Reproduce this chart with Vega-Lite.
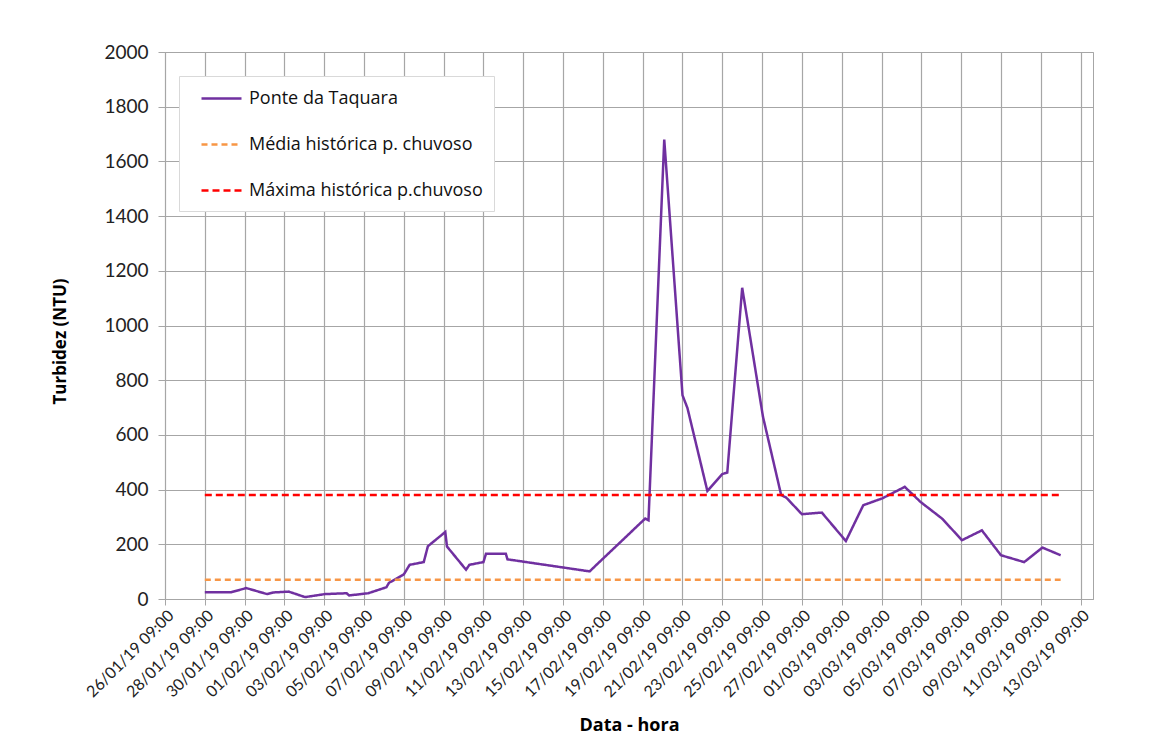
{
  "$schema": "https://vega.github.io/schema/vega-lite/v6.json",
  "autosize": "none",
  "width": 928,
  "height": 547,
  "padding": {"left": 165, "top": 52, "right": 74, "bottom": 136},
  "background": "white",
  "config": {
    "font": "Lato",
    "view": {"stroke": "#a6a6a6", "strokeWidth": 1}
  },
  "data": {
    "values": [
      {"t": "2019-01-28T09:00Z", "v": 25, "s": "Ponte da Taquara"},
      {"t": "2019-01-29T17:00Z", "v": 25, "s": "Ponte da Taquara"},
      {"t": "2019-01-30T11:00Z", "v": 40, "s": "Ponte da Taquara"},
      {"t": "2019-01-31T12:00Z", "v": 18, "s": "Ponte da Taquara"},
      {"t": "2019-01-31T20:00Z", "v": 24, "s": "Ponte da Taquara"},
      {"t": "2019-02-01T14:00Z", "v": 27, "s": "Ponte da Taquara"},
      {"t": "2019-02-02T10:00Z", "v": 7, "s": "Ponte da Taquara"},
      {"t": "2019-02-03T10:00Z", "v": 18, "s": "Ponte da Taquara"},
      {"t": "2019-02-04T12:00Z", "v": 21, "s": "Ponte da Taquara"},
      {"t": "2019-02-04T15:00Z", "v": 13, "s": "Ponte da Taquara"},
      {"t": "2019-02-05T14:00Z", "v": 21, "s": "Ponte da Taquara"},
      {"t": "2019-02-06T12:00Z", "v": 43, "s": "Ponte da Taquara"},
      {"t": "2019-02-06T15:00Z", "v": 59, "s": "Ponte da Taquara"},
      {"t": "2019-02-07T09:00Z", "v": 90, "s": "Ponte da Taquara"},
      {"t": "2019-02-07T16:00Z", "v": 125, "s": "Ponte da Taquara"},
      {"t": "2019-02-08T09:00Z", "v": 135, "s": "Ponte da Taquara"},
      {"t": "2019-02-08T14:00Z", "v": 193, "s": "Ponte da Taquara"},
      {"t": "2019-02-09T11:00Z", "v": 245, "s": "Ponte da Taquara"},
      {"t": "2019-02-09T13:00Z", "v": 192, "s": "Ponte da Taquara"},
      {"t": "2019-02-10T12:00Z", "v": 107, "s": "Ponte da Taquara"},
      {"t": "2019-02-10T16:00Z", "v": 125, "s": "Ponte da Taquara"},
      {"t": "2019-02-11T09:00Z", "v": 135, "s": "Ponte da Taquara"},
      {"t": "2019-02-11T12:00Z", "v": 165, "s": "Ponte da Taquara"},
      {"t": "2019-02-12T12:00Z", "v": 165, "s": "Ponte da Taquara"},
      {"t": "2019-02-12T14:00Z", "v": 145, "s": "Ponte da Taquara"},
      {"t": "2019-02-16T17:00Z", "v": 101, "s": "Ponte da Taquara"},
      {"t": "2019-02-19T12:00Z", "v": 294, "s": "Ponte da Taquara"},
      {"t": "2019-02-19T16:00Z", "v": 288, "s": "Ponte da Taquara"},
      {"t": "2019-02-20T11:00Z", "v": 1680, "s": "Ponte da Taquara"},
      {"t": "2019-02-21T09:00Z", "v": 745, "s": "Ponte da Taquara"},
      {"t": "2019-02-21T15:00Z", "v": 698, "s": "Ponte da Taquara"},
      {"t": "2019-02-22T15:00Z", "v": 395, "s": "Ponte da Taquara"},
      {"t": "2019-02-23T09:00Z", "v": 457, "s": "Ponte da Taquara"},
      {"t": "2019-02-23T15:00Z", "v": 462, "s": "Ponte da Taquara"},
      {"t": "2019-02-24T09:00Z", "v": 1138, "s": "Ponte da Taquara"},
      {"t": "2019-02-25T10:00Z", "v": 667, "s": "Ponte da Taquara"},
      {"t": "2019-02-26T08:00Z", "v": 380, "s": "Ponte da Taquara"},
      {"t": "2019-02-26T14:00Z", "v": 371, "s": "Ponte da Taquara"},
      {"t": "2019-02-27T09:00Z", "v": 310, "s": "Ponte da Taquara"},
      {"t": "2019-02-28T09:00Z", "v": 316, "s": "Ponte da Taquara"},
      {"t": "2019-03-01T14:00Z", "v": 212, "s": "Ponte da Taquara"},
      {"t": "2019-03-02T11:00Z", "v": 343, "s": "Ponte da Taquara"},
      {"t": "2019-03-03T10:00Z", "v": 368, "s": "Ponte da Taquara"},
      {"t": "2019-03-04T13:00Z", "v": 410, "s": "Ponte da Taquara"},
      {"t": "2019-03-05T08:00Z", "v": 355, "s": "Ponte da Taquara"},
      {"t": "2019-03-06T10:00Z", "v": 294, "s": "Ponte da Taquara"},
      {"t": "2019-03-07T10:00Z", "v": 215, "s": "Ponte da Taquara"},
      {"t": "2019-03-08T10:00Z", "v": 251, "s": "Ponte da Taquara"},
      {"t": "2019-03-09T09:00Z", "v": 160, "s": "Ponte da Taquara"},
      {"t": "2019-03-10T13:00Z", "v": 135, "s": "Ponte da Taquara"},
      {"t": "2019-03-11T11:00Z", "v": 188, "s": "Ponte da Taquara"},
      {"t": "2019-03-12T09:00Z", "v": 160, "s": "Ponte da Taquara"},
      {"t": "2019-01-28T09:00Z", "v": 70, "s": "Média histórica p. chuvoso"},
      {"t": "2019-03-12T09:00Z", "v": 70, "s": "Média histórica p. chuvoso"},
      {"t": "2019-01-28T09:00Z", "v": 380, "s": "Máxima histórica p.chuvoso"},
      {"t": "2019-03-12T09:00Z", "v": 380, "s": "Máxima histórica p.chuvoso"}
    ]
  },
  "mark": {"type": "line", "strokeWidth": 2.5, "interpolate": "linear"},
  "encoding": {
    "x": {
      "field": "t",
      "type": "temporal",
      "scale": {
        "type": "utc",
        "domain": [
          {"year": 2019, "month": 1, "date": 26, "hours": 9, "utc": true},
          {"year": 2019, "month": 3, "date": 14, "hours": 0, "utc": true}
        ]
      },
      "axis": {
        "title": "Data - hora",
        "titleFont": "Open Sans",
        "titleFontSize": 18,
        "titleFontWeight": "bold",
        "titleColor": "#000000",
        "titleX": 464,
        "titleY": 126,
        "titleBaseline": "middle",
        "labelExpr": "utcFormat(datum.value, '%d/%m/%y %H:%M')",
        "labelAngle": -45,
        "labelFontSize": 16,
        "labelColor": "#222222",
        "labelPadding": 2,
        "labelFlush": false,
        "labelOverlap": false,
        "tickSize": 6,
        "tickColor": "#a6a6a6",
        "domainColor": "#a6a6a6",
        "gridColor": "#a6a6a6",
        "gridWidth": 1.2,
        "grid": true,
        "values": [
          {"year": 2019, "month": 1, "date": 26, "hours": 9, "utc": true},
          {"year": 2019, "month": 1, "date": 28, "hours": 9, "utc": true},
          {"year": 2019, "month": 1, "date": 30, "hours": 9, "utc": true},
          {"year": 2019, "month": 2, "date": 1, "hours": 9, "utc": true},
          {"year": 2019, "month": 2, "date": 3, "hours": 9, "utc": true},
          {"year": 2019, "month": 2, "date": 5, "hours": 9, "utc": true},
          {"year": 2019, "month": 2, "date": 7, "hours": 9, "utc": true},
          {"year": 2019, "month": 2, "date": 9, "hours": 9, "utc": true},
          {"year": 2019, "month": 2, "date": 11, "hours": 9, "utc": true},
          {"year": 2019, "month": 2, "date": 13, "hours": 9, "utc": true},
          {"year": 2019, "month": 2, "date": 15, "hours": 9, "utc": true},
          {"year": 2019, "month": 2, "date": 17, "hours": 9, "utc": true},
          {"year": 2019, "month": 2, "date": 19, "hours": 9, "utc": true},
          {"year": 2019, "month": 2, "date": 21, "hours": 9, "utc": true},
          {"year": 2019, "month": 2, "date": 23, "hours": 9, "utc": true},
          {"year": 2019, "month": 2, "date": 25, "hours": 9, "utc": true},
          {"year": 2019, "month": 2, "date": 27, "hours": 9, "utc": true},
          {"year": 2019, "month": 3, "date": 1, "hours": 9, "utc": true},
          {"year": 2019, "month": 3, "date": 3, "hours": 9, "utc": true},
          {"year": 2019, "month": 3, "date": 5, "hours": 9, "utc": true},
          {"year": 2019, "month": 3, "date": 7, "hours": 9, "utc": true},
          {"year": 2019, "month": 3, "date": 9, "hours": 9, "utc": true},
          {"year": 2019, "month": 3, "date": 11, "hours": 9, "utc": true},
          {"year": 2019, "month": 3, "date": 13, "hours": 9, "utc": true}
        ]
      }
    },
    "y": {
      "field": "v",
      "type": "quantitative",
      "scale": {"domain": [0, 2000], "nice": false, "zero": true},
      "axis": {
        "title": "Turbidez (NTU)",
        "titleFont": "Open Sans",
        "titleFontSize": 17,
        "titleFontWeight": "bold",
        "titleColor": "#000000",
        "titleX": -105,
        "titleY": 289,
        "titleAngle": -90,
        "titleBaseline": "middle",
        "titleAlign": "center",
        "format": "d",
        "values": [0, 200, 400, 600, 800, 1000, 1200, 1400, 1600, 1800, 2000],
        "labelFontSize": 19,
        "labelColor": "#222222",
        "labelPadding": 10,
        "tickSize": 7,
        "tickColor": "#a6a6a6",
        "domainColor": "#a6a6a6",
        "gridColor": "#a6a6a6",
        "gridWidth": 1.2
      }
    },
    "color": {
      "field": "s",
      "type": "nominal",
      "scale": {
        "domain": ["Ponte da Taquara", "Média histórica p. chuvoso", "Máxima histórica p.chuvoso"],
        "range": ["#7030A0", "#F79646", "#FF0000"]
      },
      "legend": {
        "title": null,
        "orient": "none",
        "legendX": 14,
        "legendY": 24,
        "padding": 11,
        "fillColor": "white",
        "strokeColor": "#d9d9d9",
        "symbolType": "M0,0H4",
        "symbolSize": 400,
        "symbolStrokeWidth": 2.5,
        "labelFontSize": 18,
        "labelFont": "Open Sans",
        "labelColor": "#111111",
        "labelOffset": 36,
        "rowPadding": 25,
        "labelLimit": 400
      }
    },
    "strokeDash": {
      "field": "s",
      "type": "nominal",
      "scale": {
        "domain": ["Ponte da Taquara", "Média histórica p. chuvoso", "Máxima histórica p.chuvoso"],
        "range": [[1, 0], [6, 4], [7, 4]]
      },
      "legend": null
    }
  }
}
